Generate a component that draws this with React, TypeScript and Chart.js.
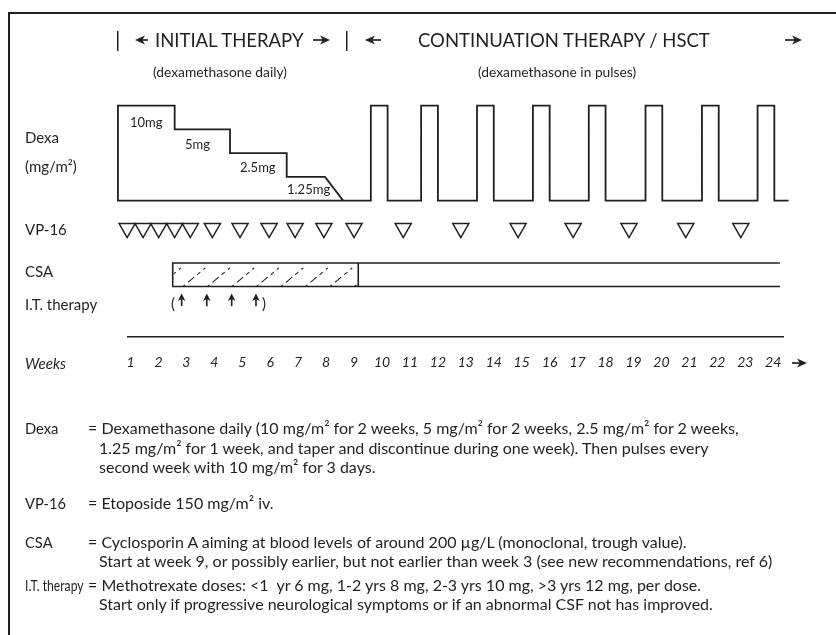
import React, { useEffect, useRef } from 'react';
import { Chart, registerables } from 'chart.js';

Chart.register(...registerables);

// ---------------- data (weeks on the x axis) ----------------
const weekTicks = [1, 2, 3, 4, 5, 6, 7, 8, 9, 10, 11, 12, 13, 14, 15, 16, 17, 18, 19, 20, 21, 22, 23, 24];

// daily dexamethasone steps: start week of each step and its drawn level
const dexaStepStarts = [0.55, 2.58, 4.56, 6.59];
const dexaStepLevels = [4, 3, 2, 1];
const dexaDoseLabels = ['10mg', '5mg', '2.5mg', '1.25mg'];
const dexaTaperStart = 7.96;
const dexaTaperEnd = 8.61;

// dexamethasone pulses (continuation)
const dexaPulseStarts = [9.6, 11.4, 13.4, 15.4, 17.4, 19.43, 21.45, 23.44];
const dexaPulseWidth = 0.6;
const dexaPulseLevel = 4;
const dexaBaselineEnd = 24.55;

// VP-16 (etoposide) doses
const vp16Weeks = [0.88, 1.45, 2.01, 2.58, 3.14, 3.93, 4.92, 5.96, 6.89, 7.92, 9.0, 10.76, 12.82, 14.87, 16.84, 18.84, 20.87, 22.84];

// CSA (cyclosporin A)
const csaHatchStart = 2.51;
const csaSwitch = 9.15;
const csaEnd = 24.24;

// intrathecal therapy
const itWeeks = [2.83, 3.73, 4.62, 5.49];

// ---------------- layout rows (y-scale units) ----------------
const ROW = { vp16: -1.165, csaTop: -2.63, csaBottom: -3.62, itTip: -3.92, itBase: -4.45 };
const Y_MIN = -5.75;
const Y_MAX = 8;
const X_MIN = 0.91;
const X_MAX = 24.35;

const INK = '#231f20';
const FONT = 'Lato, "Open Sans", sans-serif';

function buildDexaPoints() {
  const pts: { x: number; y: number }[] = [];
  pts.push({ x: dexaTaperEnd, y: 0 });
  pts.push({ x: dexaStepStarts[0], y: 0 });
  dexaStepStarts.forEach((s, i) => {
    const end = i < dexaStepStarts.length - 1 ? dexaStepStarts[i + 1] : dexaTaperStart;
    pts.push({ x: s, y: dexaStepLevels[i] });
    pts.push({ x: end, y: dexaStepLevels[i] });
  });
  pts.push({ x: dexaTaperEnd, y: 0 });
  dexaPulseStarts.forEach((s) => {
    pts.push({ x: s, y: 0 });
    pts.push({ x: s, y: dexaPulseLevel });
    pts.push({ x: s + dexaPulseWidth, y: dexaPulseLevel });
    pts.push({ x: s + dexaPulseWidth, y: 0 });
  });
  pts.push({ x: dexaBaselineEnd, y: 0 });
  return pts;
}

function arrowH(ctx: CanvasRenderingContext2D, from: number, to: number, y: number) {
  const dir = to > from ? 1 : -1;
  const headLen = 10;
  const half = 4.6;
  ctx.beginPath();
  ctx.moveTo(from, y);
  ctx.lineTo(to - dir * headLen * 0.6, y);
  ctx.lineWidth = 1.7;
  ctx.stroke();
  ctx.beginPath();
  ctx.moveTo(to, y);
  ctx.lineTo(to - dir * headLen, y - half);
  ctx.lineTo(to - dir * headLen * 0.72, y);
  ctx.lineTo(to - dir * headLen, y + half);
  ctx.closePath();
  ctx.fill();
}

function arrowUp(ctx: CanvasRenderingContext2D, x: number, tip: number, base: number) {
  const headLen = 7.5;
  const half = 3.8;
  ctx.beginPath();
  ctx.moveTo(x, base);
  ctx.lineTo(x, tip + headLen * 0.6);
  ctx.lineWidth = 1.6;
  ctx.stroke();
  ctx.beginPath();
  ctx.moveTo(x, tip);
  ctx.lineTo(x - half, tip + headLen);
  ctx.lineTo(x, tip + headLen * 0.72);
  ctx.lineTo(x + half, tip + headLen);
  ctx.closePath();
  ctx.fill();
}

const decorPlugin = {
  id: 'decor',
  afterDatasetsDraw(chart: any) {
    const { ctx } = chart;
    const xs = chart.scales.x;
    const ys = chart.scales.y;
    ctx.save();
    ctx.strokeStyle = INK;
    ctx.fillStyle = INK;

    // hatched CSA part
    const x0 = xs.getPixelForValue(csaHatchStart);
    const x1 = xs.getPixelForValue(csaSwitch);
    const yt = ys.getPixelForValue(ROW.csaTop);
    const yb = ys.getPixelForValue(ROW.csaBottom);
    ctx.save();
    ctx.beginPath();
    ctx.rect(x0 + 1, yt - 1, x1 - x0 - 2, yb - yt + 2);
    ctx.clip();
    ctx.lineWidth = 1.1;
    ctx.setLineDash([2.5, 4, 8, 4, 4, 4, 2.5, 20]);
    const h = yb - yt;
    const dx = h * 1.2;
    ctx.beginPath();
    for (let x = x0 + 14; x < x1 + dx; x += 24.5) {
      ctx.moveTo(x - dx, yb);
      ctx.lineTo(x, yt);
    }
    ctx.stroke();
    ctx.restore();

    // I.T. therapy arrows
    itWeeks.forEach((w) => {
      arrowUp(ctx, xs.getPixelForValue(w), ys.getPixelForValue(ROW.itTip), ys.getPixelForValue(ROW.itBase));
    });

    // header and axis arrows
    arrowH(ctx, 148, 135, 40);
    arrowH(ctx, 313, 330, 40);
    arrowH(ctx, 381, 365, 40);
    arrowH(ctx, 785, 802, 40);
    arrowH(ctx, 792, 807, 363);
    ctx.restore();
  },
};

const T = ({ x, y, size, italic, sx, children }: any) => (
  <div
    style={{
      position: 'absolute',
      left: x,
      top: y,
      fontSize: size,
      lineHeight: 1,
      transform: `translateY(-50%)${sx ? ` scaleX(${sx})` : ''}`,
      transformOrigin: 'left center',
      whiteSpace: 'pre',
      fontStyle: italic ? 'italic' : 'normal',
    }}
  >
    {children}
  </div>
);

const doseLabelPos = [
  [130, 122],
  [185, 144],
  [240, 167],
  [287, 189],
];

const NOTE = 16;

export default function App() {
  const ref = useRef<HTMLCanvasElement | null>(null);

  useEffect(() => {
    const canvas = ref.current;
    if (!canvas) return;
    const chart = new Chart(canvas, {
      type: 'line',
      data: {
        datasets: [
          {
            label: 'Dexa',
            data: buildDexaPoints(),
            borderColor: INK,
            borderWidth: 1.8,
            pointRadius: 0,
            fill: false,
            tension: 0,
            clip: false,
          } as any,
          {
            label: 'CSA',
            data: [
              { x: csaEnd, y: ROW.csaTop },
              { x: csaHatchStart, y: ROW.csaTop },
              { x: csaHatchStart, y: ROW.csaBottom },
              { x: csaEnd, y: ROW.csaBottom },
            ],
            borderColor: INK,
            borderWidth: 1.6,
            pointRadius: 0,
            fill: false,
            clip: false,
          } as any,
          {
            label: 'CSA switch',
            data: [
              { x: csaSwitch, y: ROW.csaTop },
              { x: csaSwitch, y: ROW.csaBottom },
            ],
            borderColor: INK,
            borderWidth: 1.6,
            pointRadius: 0,
            fill: false,
            clip: false,
          } as any,
          {
            label: 'VP-16',
            data: vp16Weeks.map((x) => ({ x, y: ROW.vp16 })),
            showLine: false,
            pointStyle: 'triangle',
            rotation: 180,
            pointRadius: 9.3,
            pointBackgroundColor: '#ffffff',
            pointBorderColor: INK,
            pointBorderWidth: 1.5,
            clip: false,
          } as any,
        ],
      },
      options: {
        animation: false,
        responsive: false,
        devicePixelRatio: 1,
        events: [],
        layout: { padding: { left: 128, right: 53, top: 2.9, bottom: 246.6 } },
        plugins: { legend: { display: false }, tooltip: { enabled: false } },
        scales: {
          x: {
            type: 'linear',
            min: X_MIN,
            max: X_MAX,
            grid: { display: false, drawTicks: false },
            border: { display: true, color: INK, width: 1.6 },
            ticks: {
              padding: 17.3,
              color: INK,
              autoSkip: false,
              maxRotation: 0,
              font: { family: FONT, size: 14, style: 'italic' },
              callback: (v: any) => String(v),
            },
            afterBuildTicks: (s: any) => {
              s.ticks = weekTicks.map((value) => ({ value }));
            },
          },
          y: { type: 'linear', display: false, min: Y_MIN, max: Y_MAX },
        },
      } as any,
      plugins: [decorPlugin],
    });
    return () => chart.destroy();
  }, []);

  return (
    <div
      style={{
        position: 'absolute',
        left: 0,
        top: 0,
        width: 836,
        height: 635,
        overflow: 'hidden',
        background: '#fff',
        fontFamily: FONT,
        color: INK,
      }}
    >
      <div
        style={{
          position: 'absolute',
          left: 8,
          top: 12,
          width: 900,
          height: 700,
          borderTop: `2px solid ${INK}`,
          borderLeft: `2px solid ${INK}`,
        }}
      />
      <canvas ref={ref} width={836} height={635} style={{ position: 'absolute', left: 0, top: 0 }} />

      {/* header */}
      <T x={115} y={39} size={22}>|</T>
      <T x={155} y={40} size={18.5}>INITIAL THERAPY</T>
      <T x={344} y={39} size={22}>|</T>
      <T x={418} y={40} size={18.5}>CONTINUATION THERAPY / HSCT</T>
      <T x={153} y={72} size={13.8}>(dexamethasone daily)</T>
      <T x={478} y={72} size={13.8}>(dexamethasone in pulses)</T>

      {/* dose labels */}
      {dexaDoseLabels.map((l, i) => (
        <T key={l} x={doseLabelPos[i][0]} y={doseLabelPos[i][1]} size={13}>
          {l}
        </T>
      ))}

      {/* row labels */}
      <T x={25} y={137} size={15}>Dexa</T>
      <T x={25} y={166} size={15}>(mg/m²)</T>
      <T x={25} y={229} size={15}>VP-16</T>
      <T x={25} y={271} size={15}>CSA</T>
      <T x={25} y={304} size={15}>I.T. therapy</T>
      <T x={171} y={303} size={15}>(</T>
      <T x={262} y={303} size={15}>)</T>
      <T x={25} y={363} size={15} italic>Weeks</T>

      {/* notes */}
      <T x={25} y={428} size={NOTE} sx={0.92}>Dexa</T>
      <T x={88} y={428} size={NOTE}>= Dexamethasone daily (10 mg/m² for 2 weeks, 5 mg/m² for 2 weeks, 2.5 mg/m² for 2 weeks,</T>
      <T x={99} y={448} size={NOTE}>1.25 mg/m² for 1 week, and taper and discontinue during one week). Then pulses every</T>
      <T x={99} y={467} size={NOTE}>second week with 10 mg/m² for 3 days.</T>

      <T x={25} y={503} size={NOTE} sx={0.92}>VP-16</T>
      <T x={88} y={503} size={NOTE}>= Etoposide 150 mg/m² iv.</T>

      <T x={25} y={542} size={NOTE} sx={0.92}>CSA</T>
      <T x={88} y={542} size={NOTE}>= Cyclosporin A aiming at blood levels of around 200 µg/L (monoclonal, trough value).</T>
      <T x={99} y={561} size={NOTE}>Start at week 9, or possibly earlier, but not earlier than week 3 (see new recommendations, ref 6)</T>

      <T x={25} y={585} size={NOTE} sx={0.76}>I.T. therapy</T>
      <T x={88} y={585} size={NOTE}>= Methotrexate doses: &lt;1  yr 6 mg, 1-2 yrs 8 mg, 2-3 yrs 10 mg, &gt;3 yrs 12 mg, per dose.</T>
      <T x={99} y={604} size={NOTE}>Start only if progressive neurological symptoms or if an abnormal CSF not has improved.</T>
    </div>
  );
}
